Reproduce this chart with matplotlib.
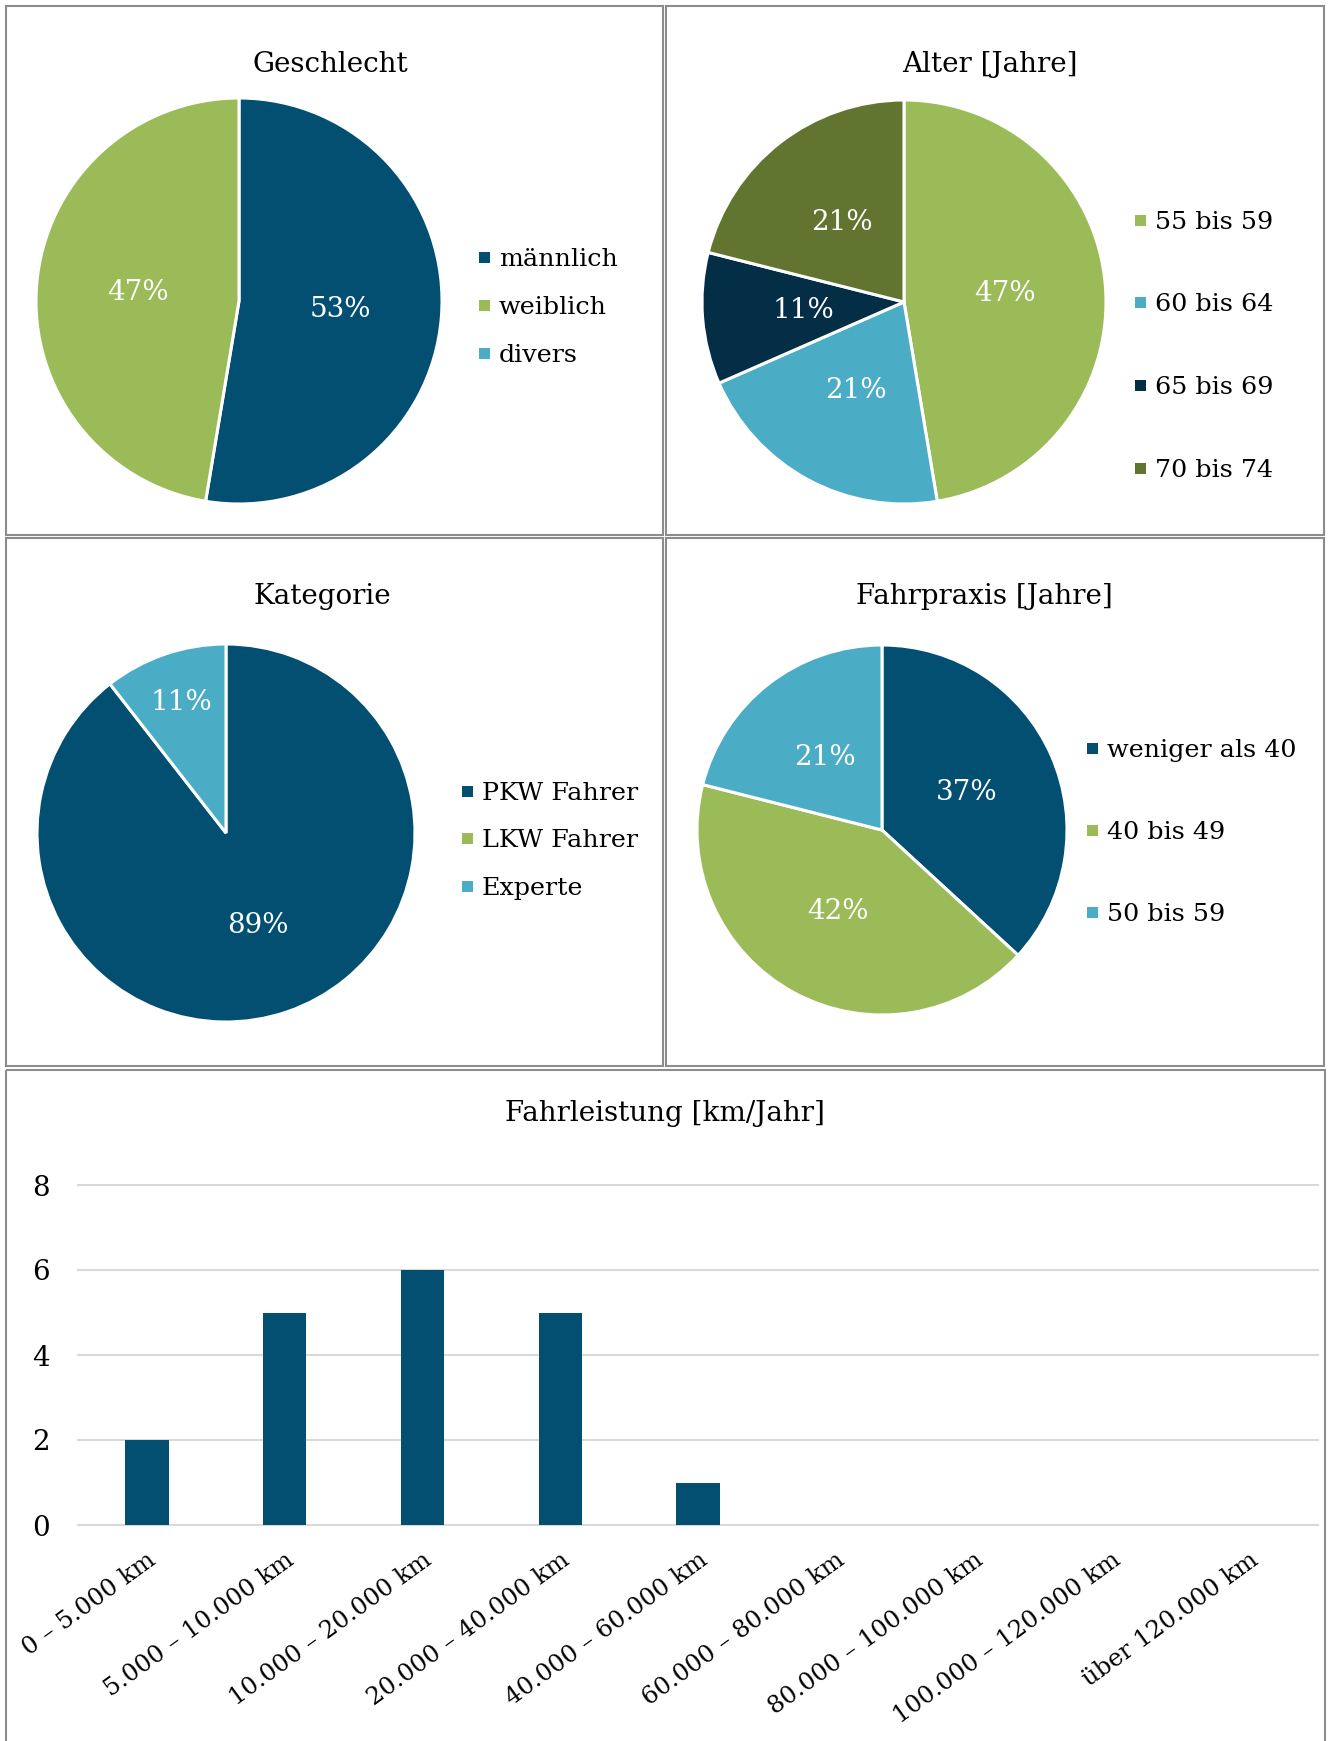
import matplotlib
matplotlib.use("Agg")
import matplotlib.pyplot as plt
from matplotlib.patches import Rectangle
import matplotlib.transforms as mtransforms
import numpy as np

# Canvas size in pixels
W, H = 1330, 1741
DPI = 100

plt.rcParams['font.family'] = ['DejaVu Serif']
FS = 20          # titles, percentages, y ticks
FS_LEG = 18.3    # legend entries
FS_XT = 17.5     # rotated category labels

DARK_BLUE = '#024F72'
GREEN = '#9BBB59'
CYAN = '#4BACC6'
NAVY = '#032E45'
OLIVE = '#627530'
BORDER = '#8C8C8C'
GRID = '#D9D9D9'

# ---- survey data (counts of participants) ----
gender_title = 'Geschlecht'
gender_labels = ['männlich', 'weiblich', 'divers']
gender_counts = [10, 9, 0]

age_title = 'Alter [Jahre]'
age_labels = ['55 bis 59', '60 bis 64', '65 bis 69', '70 bis 74']
age_counts = [9, 4, 2, 4]

category_title = 'Kategorie'
category_labels = ['PKW Fahrer', 'LKW Fahrer', 'Experte']
category_counts = [17, 0, 2]

practice_title = 'Fahrpraxis [Jahre]'
practice_labels = ['weniger als 40', '40 bis 49', '50 bis 59']
practice_counts = [7, 8, 4]

mileage_title = 'Fahrleistung [km/Jahr]'
mileage_labels = ['0 – 5.000 km', '5.000 – 10.000 km', '10.000 – 20.000 km',
                  '20.000 – 40.000 km', '40.000 – 60.000 km', '60.000 – 80.000 km',
                  '80.000 – 100.000 km', '100.000 – 120.000 km', 'über 120.000 km']
mileage_counts = [2, 5, 6, 5, 1, 0, 0, 0, 0]

fig = plt.figure(figsize=(W / DPI, H / DPI), dpi=DPI)
fig.patch.set_facecolor('white')


def px_axes(x0, y0, x1, y1):
    """Axes placed by pixel box (origin top-left)."""
    return fig.add_axes([x0 / W, 1 - y1 / H, (x1 - x0) / W, (y1 - y0) / H])


# overlay in pixel units for frames, titles and legends
ov = px_axes(0, 0, W, H)
ov.set_xlim(0, W)
ov.set_ylim(H, 0)
ov.axis('off')

panels = [(6, 6, 663, 535), (666, 6, 1324, 535),
          (6, 538, 663, 1066), (666, 538, 1324, 1066),
          (6, 1070, 1325, 1760)]
for x0, y0, x1, y1 in panels:
    ov.add_patch(Rectangle((x0, y0), x1 - x0, y1 - y0, fill=False,
                           edgecolor=BORDER, linewidth=1.5, clip_on=False))


def draw_pie(cx, cy, r, counts, colors, label_r):
    ax = px_axes(cx - r, cy - r, cx + r, cy + r)
    vals = [c for c in counts if c > 0]
    cols = [col for c, col in zip(counts, colors) if c > 0]
    lrs = [lr for c, lr in zip(counts, label_r) if c > 0]
    wedges, _ = ax.pie(vals, colors=cols, startangle=90, counterclock=False,
                       radius=1, wedgeprops=dict(edgecolor='white', linewidth=2.2))
    total = sum(counts)
    for w, v, lr in zip(wedges, vals, lrs):
        w.set_clip_on(False)
        ang = np.deg2rad((w.theta1 + w.theta2) / 2)
        ax.text(lr * np.cos(ang), lr * np.sin(ang), f'{round(100 * v / total)}%',
                color='white', fontsize=FS, ha='center', va='center')
    ax.set_xlim(-1.0, 1.0)
    ax.set_ylim(-1.0, 1.0)
    ax.set_aspect('equal')
    ax.axis('off')


def draw_legend(x_marker, ys, labels, colors):
    for y, lab, col in zip(ys, labels, colors):
        ov.add_patch(Rectangle((x_marker - 5.5, y - 5.5), 11, 11, facecolor=col,
                               edgecolor='none'))
        ov.text(x_marker + 15, y, lab, fontsize=FS_LEG, ha='left',
                va='center_baseline', color='black')


def draw_title(xc, y, text):
    ov.text(xc, y, text, fontsize=FS, ha='center', va='baseline', color='black')


# Geschlecht
draw_title(330, 72, gender_title)
draw_pie(239, 301, 203, gender_counts, [DARK_BLUE, GREEN, CYAN], [0.5, 0.5, 0.5])
draw_legend(484, [257, 305, 353], gender_labels, [DARK_BLUE, GREEN, CYAN])

# Alter
draw_title(990, 72, age_title)
draw_pie(904, 302, 202, age_counts, [GREEN, CYAN, NAVY, OLIVE], [0.5, 0.5, 0.5, 0.5])
draw_legend(1140, [220, 302, 385, 468], age_labels, [GREEN, CYAN, NAVY, OLIVE])

# Kategorie
draw_title(322, 604, category_title)
draw_pie(226, 833, 189, category_counts, [DARK_BLUE, GREEN, CYAN], [0.52, 0.5, 0.73])
draw_legend(467, [791, 838, 886], category_labels, [DARK_BLUE, GREEN, CYAN])

# Fahrpraxis
draw_title(984, 604, practice_title)
draw_pie(882, 830, 185, practice_counts, [DARK_BLUE, GREEN, CYAN], [0.5, 0.5, 0.5])
draw_legend(1092, [748, 830, 912], practice_labels, [DARK_BLUE, GREEN, CYAN])

# Fahrleistung bar chart
draw_title(665, 1121, mileage_title)
ax = px_axes(78, 1185, 1318, 1525)
x = np.arange(len(mileage_labels))
ax.bar(x, mileage_counts, width=0.314, color=DARK_BLUE, zorder=3)
ax.set_xlim(-0.5, len(mileage_labels) - 0.5)
ax.set_ylim(0, 8)
ax.set_yticks([0, 2, 4, 6, 8])
ax.yaxis.grid(True, color=GRID, linewidth=1.5)
for gl in ax.get_ygridlines():
    gl.set_clip_on(False)
ax.set_axisbelow(True)
for s in ax.spines.values():
    s.set_visible(False)
ax.set_xticks(x)
ax.set_xticklabels(mileage_labels, rotation=36, ha='right', va='top',
                   rotation_mode='anchor', fontsize=FS_XT)
shift = mtransforms.ScaledTranslation(6 / DPI, 0, fig.dpi_scale_trans)
for lab in ax.get_xticklabels():
    lab.set_transform(lab.get_transform() + shift)
ax.tick_params(axis='x', length=0, pad=17)
ax.tick_params(axis='y', length=0, pad=20, labelsize=FS)
ax.set_facecolor('none')

fig.savefig('out.png', dpi=DPI, facecolor='white')
